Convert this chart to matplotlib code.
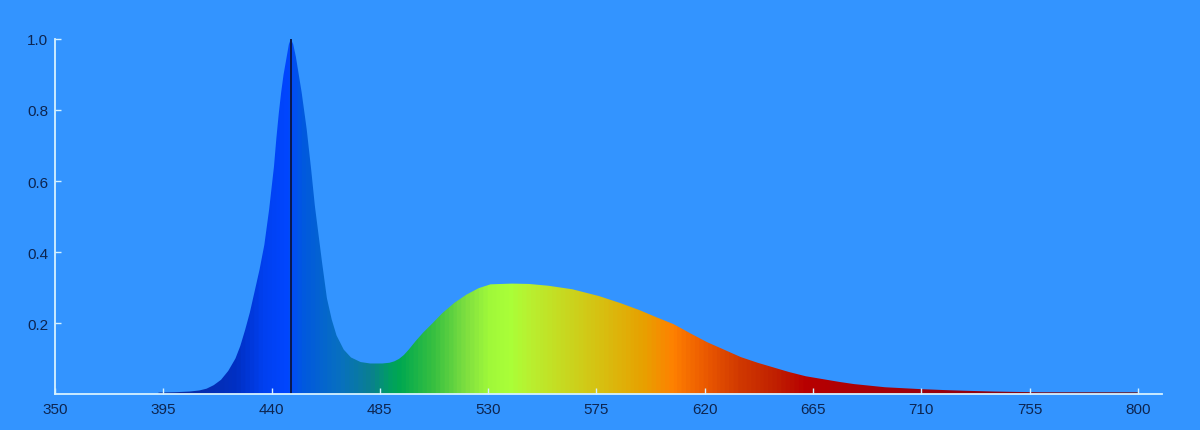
import numpy as np
import matplotlib
matplotlib.use('Agg')
import matplotlib.pyplot as plt
from matplotlib.colors import LinearSegmentedColormap

# spectrum (wavelength nm, relative intensity)
wavelength = [393, 400, 406, 410, 413, 416, 419, 422, 425, 427, 429, 431, 433, 435,
              437, 439, 441, 442, 443, 444, 445, 446.3, 447.2, 448, 449, 450.1,
              451.3, 452.5, 454.6, 456.5, 458, 459.5, 461, 463, 465, 467, 470, 473,
              477, 481, 486, 489, 491, 493, 495, 497, 500, 503, 507, 511, 516, 521,
              526, 531, 540, 547, 555, 565, 576, 585, 593, 600, 607, 614, 621, 628,
              635, 642, 648, 655, 662, 669, 676, 682, 695, 709, 720, 729, 740, 748,
              760, 780, 800]
intensity = [0.004, 0.005, 0.007, 0.01, 0.015, 0.025, 0.04, 0.065, 0.10, 0.135, 0.18,
             0.23, 0.29, 0.35, 0.42, 0.52, 0.64, 0.72, 0.79, 0.85, 0.90, 0.95, 0.985,
             1.0, 0.985, 0.95, 0.90, 0.85, 0.746, 0.63, 0.53, 0.45, 0.37, 0.27, 0.21,
             0.165, 0.125, 0.103, 0.09, 0.086, 0.086, 0.088, 0.092, 0.099, 0.11,
             0.125, 0.15, 0.173, 0.20, 0.228, 0.257, 0.28, 0.298, 0.309, 0.311,
             0.31, 0.305, 0.295, 0.276, 0.256, 0.236, 0.216, 0.197, 0.171, 0.146,
             0.125, 0.104, 0.088, 0.076, 0.062, 0.05, 0.042, 0.034, 0.028, 0.019,
             0.014, 0.011, 0.009, 0.007, 0.006, 0.005, 0.005, 0.005]

# fill colour along the wavelength axis
color_nm = [350, 395, 425, 436, 446, 452, 468, 481, 489, 493, 507, 521, 530, 539,
            547, 562, 578, 595, 607, 621, 635, 650, 662, 690, 740, 800, 810]
color_hex = ['#0d2a9a', '#0d2a9a', '#0030c4', '#0040f0', '#0046ff', '#0058e0',
             '#0870c0', '#0a8090', '#00a060', '#00a850', '#38c040', '#80e040',
             '#a0f83a', '#aaff38', '#b8f030', '#c8d820', '#d8be10', '#e8a000',
             '#ff8000', '#ea5800', '#d03800', '#c02000', '#b80000', '#a80008',
             '#900010', '#6a1828', '#6a1828']

peak_nm = 448
x_ticks = [350, 395, 440, 485, 530, 575, 620, 665, 710, 755, 800]
y_ticks = [0.2, 0.4, 0.6, 0.8, 1.0]

bg = '#3394ff'
axis_col = '#d6f2ff'
label_col = '#0d2550'

fig = plt.figure(figsize=(12, 4.31), dpi=100, facecolor=bg)
ax = fig.add_axes([0.0458, 0.0835, 0.9225, 0.8237], facecolor=bg)

lo, hi = 350, 810
pos = [(v - lo) / (hi - lo) for v in color_nm]
cmap = LinearSegmentedColormap.from_list('spec', list(zip(pos, color_hex)))

fill = ax.fill_between(wavelength, intensity, 0, facecolor='none', edgecolor='none')
grad = np.linspace(0, 1, 1000).reshape(1, -1)
im = ax.imshow(grad, cmap=cmap, extent=(lo, hi, 0, 1), aspect='auto',
               interpolation='bilinear', zorder=1)
im.set_clip_path(fill.get_paths()[0], transform=ax.transData)

ax.plot([peak_nm, peak_nm], [0, 1.0], color='#0a1440', lw=1.3, zorder=2)

ax.set_xlim(lo, hi)
ax.set_ylim(0, 1.0)
ax.set_xticks(x_ticks)
ax.set_yticks(y_ticks)
ax.set_xticklabels([str(v) for v in x_ticks])
ax.set_yticklabels(['%.1f' % v for v in y_ticks])

for side in ['top', 'right']:
    ax.spines[side].set_visible(False)
for side in ['left', 'bottom']:
    ax.spines[side].set_color(axis_col)
    ax.spines[side].set_linewidth(1.3)
    ax.spines[side].set_zorder(3)

ax.tick_params(direction='in', length=4, width=1, color=axis_col,
               labelcolor=label_col, labelsize=11)
ax.tick_params(axis='x', pad=6)
ax.tick_params(axis='y', pad=5)
for lbl in ax.get_xticklabels() + ax.get_yticklabels():
    lbl.set_family('Liberation Sans')

fig.savefig('out.png', dpi=100, facecolor=bg)
